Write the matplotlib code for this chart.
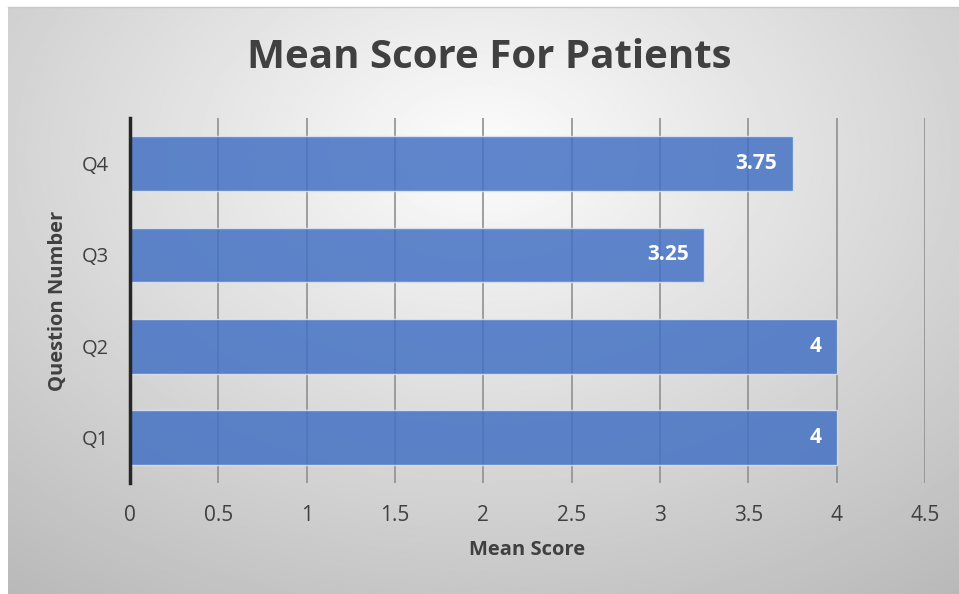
import matplotlib
matplotlib.use('Agg')
import matplotlib.pyplot as plt
import numpy as np

questions = ['Q1', 'Q2', 'Q3', 'Q4']
mean_scores = [4, 4, 3.25, 3.75]
score_labels = ['4', '4', '3.25', '3.75']
xticks = [0, 0.5, 1, 1.5, 2, 2.5, 3, 3.5, 4, 4.5]
xtick_labels = ['0', '0.5', '1', '1.5', '2', '2.5', '3', '3.5', '4', '4.5']

plt.rcParams['font.family'] = ['Open Sans', 'DejaVu Sans']

fig = plt.figure(figsize=(9.59, 5.94), dpi=100)
fig.patch.set_facecolor('white')

# radial gradient background (chart area)
bg = fig.add_axes([8 / 959, 0, 951 / 959, 587 / 594])
bg.set_zorder(-5)
yy, xx = np.mgrid[0:1:300j, 0:1:480j]
r = np.sqrt(((xx - 0.5) / 0.75) ** 2 + ((yy - 0.25) / 0.85) ** 2)
shade = 0.99 - 0.24 * np.clip(r, 0, 1.2) / 1.0
bg.imshow(shade, cmap='gray', vmin=0, vmax=1, aspect='auto',
          extent=[0, 1, 0, 1], origin='upper', interpolation='bilinear')
bg.axis('off')
fig.add_artist(plt.Line2D([8 / 959, 1], [587 / 594, 587 / 594], color='#c8c8c8', lw=1))

ax = fig.add_axes([130 / 959, 1 - 483 / 594, 795 / 959, 365 / 594])
ax.patch.set_alpha(0)

y = np.arange(len(questions))
bars = ax.barh(y, mean_scores, height=0.6, color='#4472C4', alpha=0.85,
               edgecolor='#dce6f5', linewidth=1, zorder=3)

for b, lab in zip(bars, score_labels):
    ax.text(b.get_width() - 0.085, b.get_y() + b.get_height() / 2, lab,
            ha='right', va='center', color='white', fontsize=15,
            fontweight='bold', zorder=4)

ax.set_xlim(0, 4.5)
ax.set_ylim(-0.5, 3.5)
ax.set_xticks(xticks)
ax.set_xticklabels(xtick_labels)
ax.set_yticks(y)
ax.set_yticklabels(questions)
ax.grid(axis='x', color='#909090', lw=1.2, zorder=1)
ax.tick_params(length=0, labelsize=15, labelcolor='#404040', pad=16)
ax.tick_params(axis='y', labelsize=14.5, pad=15)
for s in ['top', 'right', 'bottom']:
    ax.spines[s].set_visible(False)
ax.spines['left'].set_color('#262626')
ax.spines['left'].set_linewidth(2.5)
ax.spines['left'].set_zorder(5)

ax.set_xlabel('Mean Score', fontsize=14.5, fontweight='bold', color='#404040', labelpad=10)
ax.set_ylabel('Question Number', fontsize=14.5, fontweight='bold', color='#404040', labelpad=10)

fig.text(0.510, 0.903, 'Mean Score For Patients', ha='center', va='center',
         fontsize=29, fontweight='bold', color='#404040')

fig.savefig('out.png', dpi=100)
